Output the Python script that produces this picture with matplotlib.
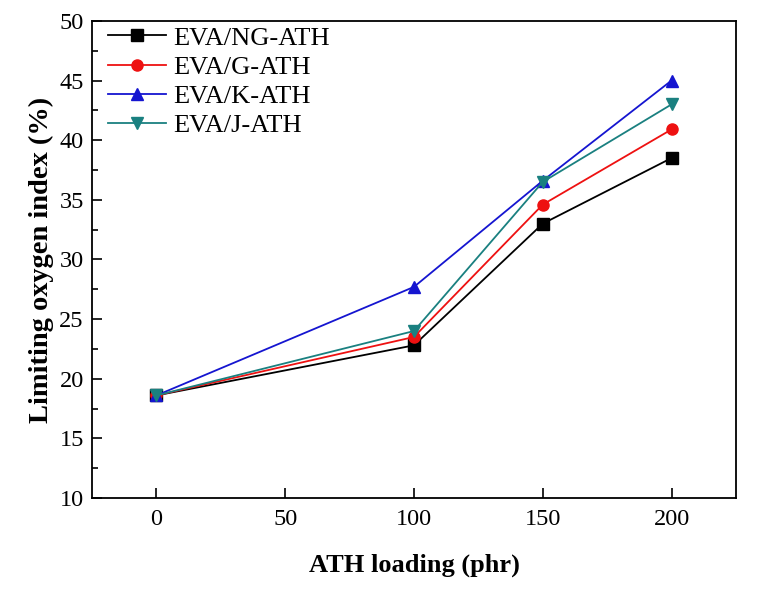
import matplotlib
matplotlib.use("Agg")
import matplotlib.pyplot as plt
from matplotlib.ticker import MultipleLocator

plt.rcParams["font.family"] = ["Liberation Serif", "DejaVu Serif"]
plt.rcParams["mathtext.fontset"] = "stix"

# ATH loading (phr)
loading = [0, 100, 150, 200]

# LOI (%) per formulation
loi_ng = [18.6, 22.8, 33.0, 38.5]
loi_g = [18.6, 23.5, 34.6, 40.9]
loi_k = [18.6, 27.7, 36.6, 45.0]
loi_j = [18.6, 24.0, 36.5, 43.0]

series = [
    ("EVA/NG-ATH", loi_ng, "black", "s"),
    ("EVA/G-ATH", loi_g, "#ee1111", "o"),
    ("EVA/K-ATH", loi_k, "#1515d0", "^"),
    ("EVA/J-ATH", loi_j, "#1a8080", "v"),
]

fig = plt.figure(figsize=(7.61, 5.89), dpi=100)
ax = fig.add_axes([0.121, 0.1545, 0.846, 0.81])

for name, vals, color, mk in series:
    ax.plot(loading, vals, color=color, marker=mk, markersize=8,
            linewidth=1.3, label=name)

ax.set_xlim(-25, 225)
ax.set_ylim(10, 50)
ax.xaxis.set_major_locator(MultipleLocator(50))
ax.yaxis.set_major_locator(MultipleLocator(5))
ax.yaxis.set_minor_locator(MultipleLocator(2.5))
ax.tick_params(axis="both", which="major", direction="in", length=7,
               width=1.2, labelsize=17.5, top=False, right=False)
ax.tick_params(axis="y", which="minor", direction="in", length=4,
               width=1.2, right=False)
ax.tick_params(axis="x", pad=8)
ax.tick_params(axis="y", pad=6)
for sp in ax.spines.values():
    sp.set_linewidth(1.3)

ax.set_xlabel("ATH loading (phr)", fontsize=19, fontweight="bold", labelpad=17)
ax.set_ylabel("Limiting oxygen index (%)", fontsize=20.5, fontweight="bold",
              labelpad=4)

ax.legend(loc="upper left", frameon=False, fontsize=19, handlelength=2.2,
          handletextpad=0.27, labelspacing=0.22, borderaxespad=0.0,
          borderpad=0.2, bbox_to_anchor=(0.016, 1.0))

fig.savefig("out.png", dpi=100)
